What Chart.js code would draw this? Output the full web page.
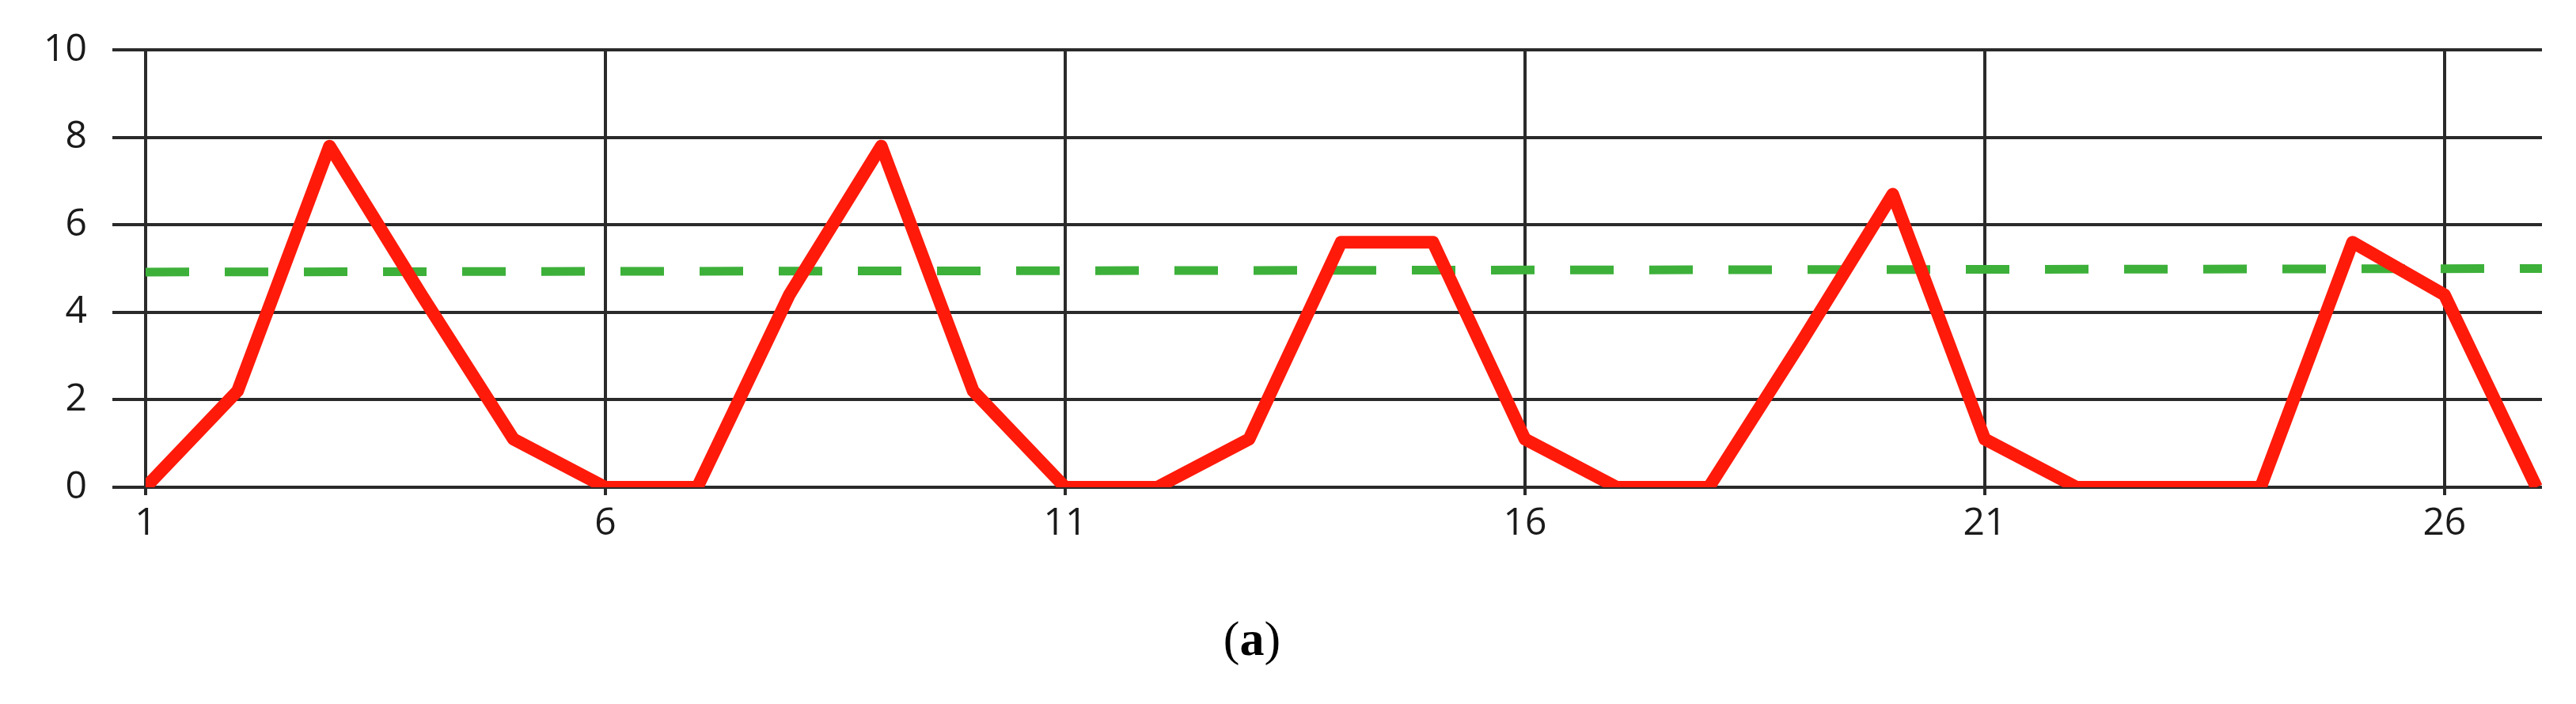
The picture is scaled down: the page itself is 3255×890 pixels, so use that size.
<!DOCTYPE html>
<html>
<head>
<meta charset="utf-8">
<script src="https://cdn.jsdelivr.net/npm/chart.js@4"></script>
<style>
  html, body { margin: 0; padding: 0; background: #fff; }
  #wrap { width: 3255px; height: 890px; }
</style>
</head>
<body>
<div id="wrap"><canvas id="c"></canvas></div>
<script>
const xValues = [1,2,3,4,5,6,7,8,9,10,11,12,13,14,15,16,17,18,19,20,21,22,23,24,25,26,27];
const redValues = [0,2.2,7.8,4.4,1.1,0,0,4.4,7.8,2.2,0,0,1.1,5.6,5.6,1.1,0,0,3.3,6.7,1.1,0,0,0,5.6,4.4,0];
const greenX = [1, 27.06];
const greenValues = [4.92, 5.0];
const yTicks = [0,2,4,6,8,10];
const xTicks = [1,6,11,16,21,26];

// caption "(a)" under the chart, with bold a
const captionPlugin = {
    id: 'caption',
    afterDraw: function (chart) {
        const ctx = chart.ctx;
        ctx.save();
        ctx.fillStyle = '#000';
        ctx.textBaseline = 'middle';
        ctx.textAlign = 'left';
        const reg = '62px "Liberation Serif"', bold = 'bold 62px "Liberation Serif"';
        ctx.font = reg;
        const w1 = ctx.measureText('(').width;
        ctx.font = bold;
        const wa = ctx.measureText('a').width;
        const cy = 812;
        let x = 1582 - (w1 * 2 + wa) / 2;
        ctx.font = reg; ctx.fillText('(', x, cy); x += w1;
        ctx.font = bold; ctx.fillText('a', x, cy); x += wa;
        ctx.font = reg; ctx.fillText(')', x, cy);
        ctx.restore();
    }
};

new Chart(document.getElementById('c'), {
    type: 'line',
    data: {
        datasets: [{
            data: xValues.map((x, i) => ({ x: x, y: redValues[i] })),
            borderColor: '#ff1a0a',
            borderWidth: 16,
            pointRadius: 0,
            borderJoinStyle: 'round',
            tension: 0
        }, {
            data: greenX.map((x, i) => ({ x: x, y: greenValues[i] })),
            borderColor: '#3db03a',
            borderWidth: 11,
            borderDash: [55, 45],
            pointRadius: 0
        }]
    },
    options: {
        responsive: true,
        maintainAspectRatio: false,
        animation: false,
        layout: { padding: { top: 63, right: 43, left: 0, bottom: 0 } },
        plugins: { legend: { display: false }, tooltip: { enabled: false } },
        scales: {
            x: {
                type: 'linear',
                min: 1,
                max: 27.06,
                afterBuildTicks: function (axis) { axis.ticks = xTicks.map(v => ({ value: v })); },
                afterFit: function (axis) { axis.height = 274; },
                grid: { color: '#2a2a2a', lineWidth: 4, tickLength: 10 },
                border: { display: false },
                ticks: { color: '#1a1a1a', font: { family: 'Open Sans', size: 48 }, padding: 8, maxRotation: 0 }
            },
            y: {
                min: 0,
                max: 10,
                afterBuildTicks: function (axis) { axis.ticks = yTicks.map(v => ({ value: v })); },
                afterFit: function (axis) { axis.width = 184; },
                grid: { color: '#2a2a2a', lineWidth: 4, tickLength: 42 },
                border: { display: false },
                ticks: { color: '#1a1a1a', font: { family: 'Open Sans', size: 48 }, padding: 32 }
            }
        }
    },
    plugins: [captionPlugin]
});
</script>
</body>
</html>
